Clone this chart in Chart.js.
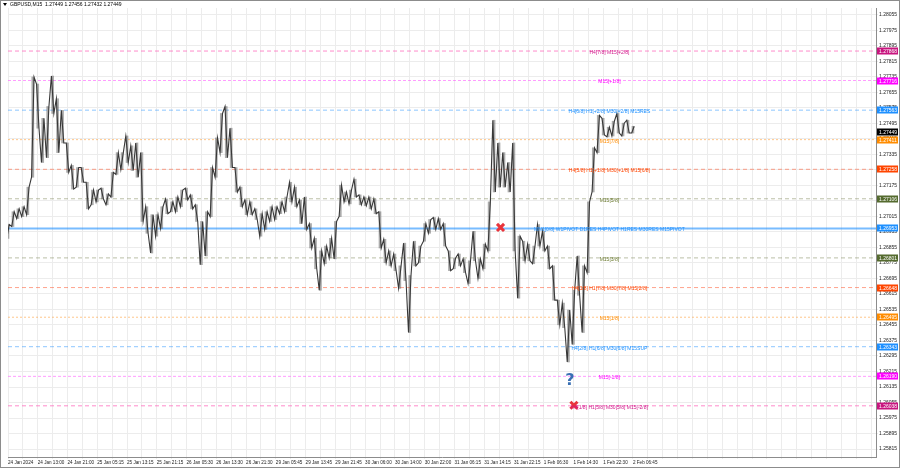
<!DOCTYPE html>
<html>
<head>
<meta charset="utf-8">
<script src="https://cdn.jsdelivr.net/npm/chart.js@4.4.1/dist/chart.umd.min.js"></script>
<style>
html, body { margin: 0; padding: 0; background: #fff; }
#wrap { width: 900px; height: 468px; position: relative; }
</style>
</head>
<body>
<div id="wrap"><canvas id="chart"></canvas></div>
<script>
const symbolInfo = 'GBPUSD,M15  1.27449 1.27456 1.27432 1.27449';

const timeLabels = ['24 Jan 2024', '24 Jan 13:00', '24 Jan 21:00', '25 Jan 05:15', '25 Jan 13:15', '25 Jan 21:15',
    '26 Jan 05:30', '26 Jan 13:30', '26 Jan 21:30', '29 Jan 05:45', '29 Jan 13:45', '29 Jan 21:45',
    '30 Jan 06:00', '30 Jan 14:00', '30 Jan 22:00', '31 Jan 06:15', '31 Jan 14:15', '31 Jan 22:15',
    '1 Feb 06:30', '1 Feb 14:30', '1 Feb 22:30', '2 Feb 06:45'];

const priceTicks = [1.25815, 1.25895, 1.25975, 1.26055, 1.26135, 1.26215, 1.26295, 1.26375, 1.26455, 1.26535,
    1.26615, 1.26695, 1.26775, 1.26855, 1.26935, 1.27015, 1.27095, 1.27175, 1.27255, 1.27335,
    1.27415, 1.27495, 1.27575, 1.27655, 1.27735, 1.27815, 1.27895, 1.27975, 1.28055];

// high / low of each price column
const highs = [
    1.26973, 1.27039, 1.27054, 1.27065, 1.27166, 1.27734, 1.27698, 1.27521, 1.27582, 1.27739,
    1.27622, 1.27562, 1.27394, 1.27278, 1.27267, 1.27267, 1.27191, 1.27151, 1.27151, 1.27161,
    1.27131, 1.27242, 1.27344, 1.27344, 1.27430, 1.27379, 1.27394, 1.27344, 1.27065, 1.27024,
    1.27024, 1.27065, 1.27105, 1.27090, 1.27115, 1.27151, 1.27161, 1.27126, 1.27075, 1.26989,
    1.27039, 1.27267, 1.27420, 1.27546, 1.27582, 1.27470, 1.27267, 1.27166, 1.27100, 1.27090,
    1.27054, 1.27029, 1.27039, 1.27065, 1.27065, 1.27090, 1.27115, 1.27191, 1.27166, 1.27100,
    1.27115, 1.26978, 1.26902, 1.26837, 1.26862, 1.26902, 1.26989, 1.27176, 1.27141, 1.27151,
    1.27207, 1.27126, 1.27115, 1.27115, 1.27105, 1.27039, 1.26897, 1.26837, 1.26821, 1.26760,
    1.26877, 1.26710, 1.26887, 1.26862, 1.26978, 1.26999, 1.27009, 1.27004, 1.26978, 1.26837,
    1.26801, 1.26821, 1.26796, 1.26786, 1.26938, 1.26796, 1.26872, 1.27090, 1.27511, 1.27394,
    1.27344, 1.27293, 1.27394, 1.26913, 1.26887, 1.26872, 1.26862, 1.26973, 1.26938, 1.26862,
    1.26760, 1.26583, 1.26568, 1.26532, 1.26634, 1.26811, 1.26760, 1.27090, 1.27369, 1.27536,
    1.27521, 1.27475, 1.27506, 1.27546, 1.27496, 1.27511, 1.27480
];
const lows = [
    1.26902, 1.26963, 1.27004, 1.27014, 1.27024, 1.27217, 1.27470, 1.27293, 1.27318, 1.27546,
    1.27344, 1.27394, 1.27242, 1.27156, 1.27166, 1.27191, 1.27054, 1.27075, 1.27090, 1.27105,
    1.27075, 1.27115, 1.27232, 1.27257, 1.27293, 1.27252, 1.27217, 1.26989, 1.26928, 1.26826,
    1.26913, 1.26953, 1.27029, 1.27039, 1.27039, 1.27065, 1.27100, 1.27054, 1.26989, 1.26766,
    1.26811, 1.27014, 1.27217, 1.27344, 1.27318, 1.27267, 1.27141, 1.27065, 1.27024, 1.27024,
    1.26999, 1.26913, 1.26948, 1.26989, 1.26999, 1.27029, 1.27039, 1.27090, 1.27065, 1.26978,
    1.26948, 1.26852, 1.26745, 1.26634, 1.26771, 1.26801, 1.26796, 1.27014, 1.27090, 1.27080,
    1.27115, 1.27075, 1.27070, 1.27054, 1.27029, 1.26852, 1.26776, 1.26760, 1.26735, 1.26644,
    1.26684, 1.26416, 1.26760, 1.26776, 1.26887, 1.26928, 1.26948, 1.26948, 1.26862, 1.26735,
    1.26745, 1.26760, 1.26725, 1.26669, 1.26786, 1.26695, 1.26745, 1.26837, 1.27141, 1.27166,
    1.27166, 1.27141, 1.26837, 1.26593, 1.26786, 1.26786, 1.26771, 1.26862, 1.26837, 1.26745,
    1.26583, 1.26456, 1.26441, 1.26264, 1.26355, 1.26608, 1.26416, 1.26725, 1.27141, 1.27344,
    1.27435, 1.27425, 1.27430, 1.27445, 1.27430, 1.27445, 1.27445
];

const lastPrice = 1.27449;

const levelPrices = [1.27868, 1.27716, 1.27563, 1.27411, 1.27258, 1.27106, 1.26953,
    1.26801, 1.26648, 1.26495, 1.26343, 1.26190, 1.26038];
const levelTexts = ['H4[7/8] M15[+2/8]', 'M15[+1/8]', 'H4[6/8] H1[+2/8] M30[+2/8] M15RES', 'M15[7/8]',
    'H4[5/8] H1[+1/8] M30[+1/8] M15[6/8]', 'M15[5/8]', 'MN1[0/8] W1PIVOT D1RES H4PIVOT H1RES M30RES M15PIVOT',
    'M15[3/8]', 'H4[3/8] H1[7/8] M30[7/8] M15[2/8]', 'M15[1/8]', 'H4[2/8] H1[6/8] M30[6/8] M15SUP',
    'M15[-1/8]', 'H4[1/8] H1[5/8] M30[5/8] M15[-2/8]'];
const levelKinds = ['p2', 'p1', 'res', 'o7', 'o6', 'o5', 'piv', 'o5', 'o6', 'o7', 'res', 'p1', 'p2'];

const crossMarks = [{x: 99.3, y: 1.26958}, {x: 114.1, y: 1.26041}];
const questionMark = {x: 113.3, y: 1.26167};

const kindStyle = {
    p2: {line: 'rgba(255,110,190,0.8)', dash: [4, 3], width: 1, text: '#d0168a', box: '#c8157f'},
    p1: {line: 'rgba(255,90,255,0.6)', dash: [3, 2], width: 1, text: '#ff00ff', box: '#ff00ff'},
    res: {line: 'rgba(30,144,255,0.5)', dash: [4, 3], width: 1, text: '#1e90ff', box: '#1e90ff'},
    o7: {line: 'rgba(255,160,60,0.6)', dash: [2, 2], width: 1, text: '#ff8c00', box: '#ff8c00'},
    o6: {line: 'rgba(255,90,50,0.55)', dash: [4, 3], width: 1, text: '#ff4500', box: '#ff4500'},
    o5: {line: 'rgba(120,130,80,0.5)', dash: [4, 3], width: 1, text: '#6b7a2f', box: '#556b2f'},
    piv: {line: 'rgba(30,144,255,0.6)', dash: [], width: 2, text: '#1e90ff', box: '#1e90ff'}
};

const TXT_FONT = 'Liberation Sans';
const X_MAX = 175;
const LEVEL_TEXT_X = 121.25;

const levelSets = levelPrices.map((p, i) => {
    const s = kindStyle[levelKinds[i]];
    return {
        type: 'line',
        data: [{x: 0, y: p}, {x: X_MAX, y: p}],
        borderColor: s.line,
        borderWidth: s.width,
        borderDash: s.dash,
        pointRadius: 0,
        order: 3
    };
});

// price path: each column visited high->low when falling, low->high when rising
const pricePath = [];
highs.forEach((h, i) => {
    const next = i + 1 < highs.length ? highs[i + 1] + lows[i + 1] : h + lows[i];
    const falling = next < h + lows[i];
    const a = falling ? h : lows[i];
    const b = falling ? lows[i] : h;
    pricePath.push({x: i - 0.25, y: a}, {x: i + 0.25, y: b});
});

const mtPlugin = {
    id: 'mtPlugin',
    beforeDraw(chart) {
        const c = chart.ctx;
        c.save();
        c.fillStyle = '#ffffff';
        c.fillRect(0, 0, chart.width, chart.height);
        c.restore();
    },
    afterDatasetsDraw(chart) {
        const c = chart.ctx;
        const xs = chart.scales.x, ys = chart.scales.y;
        c.save();
        c.font = '5px "' + TXT_FONT + '"';
        c.textAlign = 'center';
        c.textBaseline = 'middle';
        levelPrices.forEach((p, i) => {
            c.fillStyle = kindStyle[levelKinds[i]].text;
            c.fillText(levelTexts[i], xs.getPixelForValue(LEVEL_TEXT_X), ys.getPixelForValue(p) + 1.5);
        });
        c.font = 'bold 16px "DejaVu Sans"';
        c.fillStyle = '#3a70b4';
        c.fillText('?', xs.getPixelForValue(questionMark.x), ys.getPixelForValue(questionMark.y));
        c.restore();
    },
    afterDraw(chart) {
        const c = chart.ctx;
        const ys = chart.scales.y;
        const area = chart.chartArea;
        c.save();
        c.font = '5px "' + TXT_FONT + '"';
        c.textBaseline = 'middle';
        c.textAlign = 'left';
        const box = (p, color) => {
            const y = Math.round(ys.getPixelForValue(p));
            c.fillStyle = color;
            c.fillRect(area.right + 1, y - 3.5, 21, 7);
            c.fillStyle = '#ffffff';
            c.fillText(p.toFixed(5), area.right + 3, y + 0.5);
        };
        levelPrices.forEach((p, i) => box(p, kindStyle[levelKinds[i]].box));
        box(lastPrice, '#000000');
        // title
        c.fillStyle = '#000000';
        c.beginPath();
        c.moveTo(3, 3); c.lineTo(7, 3); c.lineTo(5, 6); c.closePath();
        c.fill();
        c.fillText(symbolInfo, 10, 5);
        // frame
        c.strokeStyle = '#8c8c8c';
        c.lineWidth = 1;
        c.strokeRect(0.5, 0.5, chart.width - 1, chart.height - 1);
        c.beginPath();
        c.moveTo(0.5, 0); c.lineTo(0.5, area.bottom);
        c.stroke();
        c.restore();
    }
};

const ctx = document.getElementById('chart').getContext('2d');
new Chart(ctx, {
    type: 'bar',
    data: {
        datasets: [
            {
                type: 'line',
                data: crossMarks,
                showLine: false,
                pointStyle: 'crossRot',
                pointRadius: 5,
                pointBorderWidth: 3,
                pointBorderColor: '#e8343c',
                order: 0
            },
            {
                type: 'line',
                data: pricePath,
                borderColor: '#383838',
                borderWidth: 1.1,
                pointRadius: 0,
                tension: 0,
                order: 1
            },
            {
                data: highs.map((h, i) => ({x: i, y: [lows[i], h]})),
                backgroundColor: 'rgba(90,90,90,0.5)',
                barThickness: 2,
                grouped: false,
                order: 2
            },
            ...levelSets
        ]
    },
    options: {
        responsive: true,
        maintainAspectRatio: false,
        animation: false,
        layout: {padding: 0},
        scales: {
            x: {
                type: 'linear',
                min: 0,
                max: X_MAX,
                offset: false,
                afterBuildTicks: s => {
                    const t = [];
                    for (let v = 0; v <= X_MAX; v += 3) t.push({value: v});
                    s.ticks = t;
                },
                afterFit: s => {
                    s.height = 11;
                    s.paddingLeft = 0;
                    s.paddingRight = 0;
                },
                grid: {color: '#ececec', tickLength: 2, offset: false},
                border: {color: '#8c8c8c'},
                ticks: {
                    autoSkip: false,
                    maxRotation: 0,
                    align: 'start',
                    padding: 1,
                    color: '#222',
                    font: {family: TXT_FONT, size: 4.6},
                    callback: v => (v % 6 === 0 && timeLabels[v / 6]) || ''
                }
            },
            y: {
                position: 'right',
                min: 1.25774,
                max: 1.28090,
                afterBuildTicks: s => {
                    s.ticks = priceTicks.map(v => ({value: v}));
                },
                afterFit: s => {
                    s.width = 24;
                    s.paddingTop = 0;
                    s.paddingBottom = 0;
                },
                grid: {color: '#ececec', tickLength: 2},
                border: {color: '#8c8c8c'},
                ticks: {
                    padding: 1,
                    color: '#222',
                    font: {family: TXT_FONT, size: 5},
                    callback: v => v.toFixed(5)
                }
            }
        },
        plugins: {
            legend: {display: false},
            tooltip: {enabled: false}
        }
    },
    plugins: [mtPlugin]
});
</script>
</body>
</html>
